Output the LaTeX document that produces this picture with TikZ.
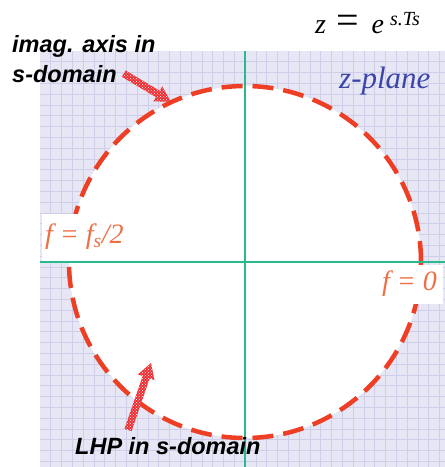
\documentclass[tikz,border=0pt]{standalone}
\usepackage{fontspec}
\setmainfont{Liberation Serif}
\setsansfont{Liberation Sans}
\usetikzlibrary{shapes.arrows,patterns,calc}

\definecolor{gridbg}{RGB}{230,230,244}
\definecolor{gridline}{RGB}{206,206,232}
\definecolor{axisgreen}{RGB}{40,185,140}
\definecolor{circred}{RGB}{238,62,36}
\definecolor{labelorange}{RGB}{238,110,70}
\definecolor{planeblue}{RGB}{60,70,170}
\definecolor{arrowred}{RGB}{238,45,50}

\begin{document}
\begin{tikzpicture}[x=1pt,y=-1pt,
    axis/.style={axisgreen, line width=2.8pt},
    unitcircle/.style={circred, line width=4.5pt, dash pattern=on 21pt off 10pt},
    freqlabel/.style={labelorange, fill=white, inner ysep=0pt, font=\fontsize{28}{30}\selectfont\itshape},
    note/.style={font=\fontsize{23.5}{30}\selectfont\sffamily\bfseries\itshape, align=left, inner sep=0pt},
    fatarrow/.style={single arrow, single arrow head extend=5pt, single arrow tip angle=60,
        inner xsep=0pt, inner ysep=3.5pt, minimum width=17pt, fill=arrowred,
        postaction={pattern=crosshatch dots, pattern color=white}}]
    \useasboundingbox (0,0) rectangle (445,467);

    % Grid (z-plane)
    \fill[gridbg] (40,51) rectangle (445,467);
    \foreach \gx in {50.8,61.6,...,445} \draw[gridline, line width=0.8pt] (\gx,51) -- (\gx,467);
    \foreach \gy in {61.8,72.6,...,467} \draw[gridline, line width=0.8pt] (40,\gy) -- (445,\gy);

    % Unit circle
    \coordinate (O) at (245,262);
    \fill[white] (O) circle (176);
    \draw[unitcircle] (O) circle (176);

    % Axes
    \draw[axis] (40,262) -- (445,262);
    \draw[axis] (245,51) -- (245,467);

    % Frequency labels
    \node[freqlabel, anchor=west, minimum height=47pt, inner xsep=3pt] (fhalf) at (42,237)
        {f = f\textsubscript{s}/2};
    \node[freqlabel, anchor=west, minimum height=39pt, inner xsep=6pt] (fzero) at (376,284)
        {f = 0};

    % Mapping and plane name
    \node[anchor=base west, inner sep=0pt] (zmap) at (315,33)
        {\fontsize{28}{28}\selectfont\itshape z\hspace{10pt}{\upshape\fontsize{40}{40}\selectfont =}\hspace{13pt}e\hspace{6pt}\raisebox{8pt}{\fontsize{20}{20}\selectfont s.Ts}};
    \node[planeblue, anchor=base west, inner sep=0pt, font=\fontsize{31}{31}\selectfont\itshape] (zplane) at (339,88) {z-plane};

    % Notes with arrows
    \node[note, anchor=base west] (imag) at (12,82) {imag. axis in\\s-domain};
    \node[note, anchor=base west] (lhp) at (75,454) {LHP in s-domain};

    \coordinate (imagtail) at (121,72);
    \coordinate (imagtip) at (168,100);
    \coordinate (lhptail) at (127,433);
    \coordinate (lhptip) at (150,366);

    \path let \p1=($(imagtip)-(imagtail)$), \n1={veclen(\x1,\y1)}, \n2={atan2(\y1,\x1)} in
        node[fatarrow, minimum height=\n1, rotate=\n2] (imagarrow) at ($(imagtail)!0.5!(imagtip)$) {};
    \path let \p1=($(lhptip)-(lhptail)$), \n1={veclen(\x1,\y1)}, \n2={atan2(\y1,\x1)} in
        node[fatarrow, minimum height=\n1, rotate=\n2] (lhparrow) at ($(lhptail)!0.5!(lhptip)$) {};
\end{tikzpicture}
\end{document}
